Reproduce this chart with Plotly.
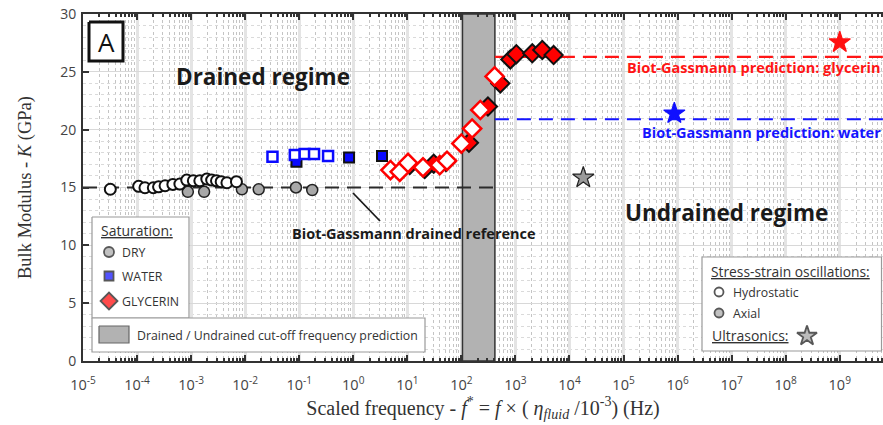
import plotly.graph_objects as go

# ---------------- data ----------------
dry_hydro_f = [3.2e-5, 1.07e-4, 1.4e-4, 2.0e-4, 2.5e-4, 3.3e-4, 4.6e-4, 6.2e-4, 8.3e-4,
               1.1e-3, 1.45e-3, 1.95e-3, 2.4e-3, 2.95e-3, 3.6e-3, 4.6e-3, 6.9e-3]
dry_hydro_K = [14.85, 15.10, 14.98, 14.98, 15.06, 15.15, 15.27, 15.30, 15.64,
               15.58, 15.58, 15.73, 15.64, 15.58, 15.50, 15.41, 15.50]
dry_axial_f = [8.7e-4, 1.74e-3, 8.7e-3, 0.0178, 0.087, 0.174]
dry_axial_K = [14.63, 14.63, 14.84, 14.84, 15.0, 14.78]

water_hydro_f = [0.032, 0.083, 0.126, 0.188, 0.342]
water_hydro_K = [17.66, 17.81, 17.89, 17.89, 17.72]
water_axial_f = [0.089, 0.836, 3.4]
water_axial_K = [17.23, 17.6, 17.72]

gly_hydro_f = [4.88, 7.24, 10.3, 19.5, 39.8, 54.2, 100, 158, 224, 412]
gly_hydro_K = [16.51, 16.36, 17.12, 16.74, 16.93, 17.31, 18.8, 20.1, 21.7, 24.6]
gly_axial_f = [11.1, 21.0, 30.8, 52.0, 138, 310, 526, 805, 1040, 2050, 3140, 5080]
gly_axial_K = [16.94, 16.6, 17.06, 17.2, 18.86, 22.0, 24.0, 26.07, 26.53, 26.6, 26.89, 26.45]

ultra_f = [1.8e4, 8.7e5, 1.0e9]
ultra_K = [15.85, 21.4, 27.55]
ultra_colors = ["#9a9a9a", "#1010ff", "#ff1010"]

bg_drained_f = [1e-5, 417]
bg_drained_K = [15.0, 15.0]
bg_water_f = [417, 10 ** 9.8]
bg_water_K = [20.9, 20.9]
bg_gly_f = [417, 10 ** 9.8]
bg_gly_K = [26.3, 26.3]

cutoff_band = [104.7, 417]

decades = list(range(-5, 10))
xtick_vals = [10.0 ** d for d in decades]
xtick_text = ["10<sup>%d</sup>" % d for d in decades]
ytick_vals = [0, 5, 10, 15, 20, 25, 30]

# ---------------- figure ----------------
fig = go.Figure()

DASH = "14px,8px"
fig.add_trace(go.Scatter(x=bg_drained_f, y=bg_drained_K, mode="lines",
                         line=dict(color="#2b2b2b", width=2, dash=DASH), hoverinfo="skip"))
fig.add_trace(go.Scatter(x=bg_water_f, y=bg_water_K, mode="lines",
                         line=dict(color="#1515ff", width=2.2, dash=DASH), hoverinfo="skip"))
fig.add_trace(go.Scatter(x=bg_gly_f, y=bg_gly_K, mode="lines",
                         line=dict(color="#ff1515", width=2.2, dash=DASH), hoverinfo="skip"))

# axial first (drawn below), hydrostatic on top
fig.add_trace(go.Scatter(x=dry_axial_f, y=dry_axial_K, mode="markers",
                         marker=dict(symbol="circle", size=11, color="#a8a8a8",
                                     line=dict(color="#222", width=1.5))))
fig.add_trace(go.Scatter(x=dry_hydro_f, y=dry_hydro_K, mode="markers",
                         marker=dict(symbol="circle", size=11, color="white",
                                     line=dict(color="#111", width=2))))
fig.add_trace(go.Scatter(x=water_axial_f, y=water_axial_K, mode="markers",
                         marker=dict(symbol="square", size=10, color="#0a0aff",
                                     line=dict(color="#111", width=2))))
fig.add_trace(go.Scatter(x=water_hydro_f, y=water_hydro_K, mode="markers",
                         marker=dict(symbol="square", size=10, color="white",
                                     line=dict(color="#0a0aff", width=2.5))))
fig.add_trace(go.Scatter(x=gly_axial_f, y=gly_axial_K, mode="markers",
                         marker=dict(symbol="diamond", size=14, color="#ff0000",
                                     line=dict(color="#111", width=2))))
fig.add_trace(go.Scatter(x=gly_hydro_f, y=gly_hydro_K, mode="markers",
                         marker=dict(symbol="diamond", size=14, color="white",
                                     line=dict(color="#ff0000", width=2.5))))
fig.add_trace(go.Scatter(x=ultra_f, y=ultra_K, mode="markers",
                         marker=dict(symbol="star", size=16, color=ultra_colors,
                                     line=dict(color=["#222", "#1010ff", "#ff1010"], width=1.2))))

# cut-off band
fig.add_shape(type="rect", xref="x", yref="y", x0=cutoff_band[0], x1=cutoff_band[1], y0=0, y1=30,
              fillcolor="#b2b2b2", line=dict(color="#333", width=1.5), layer="between")

# ---------- overlay (screen-pixel) axis for legends & labels ----------
def box(x0, x1, y0, y1, fill, edge, width):
    fig.add_trace(go.Scatter(x=[x0, x1, x1, x0, x0], y=[y0, y0, y1, y1, y0],
                             xaxis="x2", yaxis="y2", mode="lines", fill="toself",
                             fillcolor=fill, line=dict(color=edge, width=width),
                             hoverinfo="skip"))

box(92, 189, 217, 318, "white", "#9a9a9a", 1.2)
box(92, 425, 318, 352, "white", "#9a9a9a", 1.2)
box(702, 881.5, 257, 351, "white", "#9a9a9a", 1.2)
box(99, 129, 326, 343, "#b2b2b2", "#666", 1.2)
box(89, 123, 22, 61, "white", "#111", 3)

legend_glyph_x = [109, 109, 109, 719, 719, 807]
legend_glyph_y = [252, 276, 301, 292, 313, 336]
legend_glyph_sym = ["circle", "square", "diamond", "circle", "circle", "star"]
legend_glyph_fill = ["#a8a8a8", "#0a0aff", "#ff0000", "white", "#a8a8a8", "#a0a0a0"]
legend_glyph_size = [10, 9, 13, 9, 9, 15]

fig.add_trace(go.Scatter(x=legend_glyph_x, y=legend_glyph_y, xaxis="x2", yaxis="y2",
                         mode="markers",
                         marker=dict(symbol=legend_glyph_sym, size=legend_glyph_size,
                                     color=legend_glyph_fill,
                                     line=dict(color="#111", width=1.8)),
                         hoverinfo="skip"))

SANS = "Open Sans"
TXT = "#333333"

def ann(x, y, text, size, color=TXT, xanchor="left", bold=False, family=SANS):
    fig.add_annotation(x=x, y=y, xref="x2", yref="y2", text=("<b>%s</b>" % text) if bold else text,
                       showarrow=False, xanchor=xanchor, yanchor="middle",
                       font=dict(family=family, size=size, color=color))

ann(106, 42, "A", 26, color="#111", xanchor="center")
ann(263, 76, "Drained regime", 22.5, color="#1a1a1a", xanchor="center", bold=True)
ann(726, 212, "Undrained regime", 22.5, color="#1a1a1a", xanchor="center", bold=True)
ann(625, 67, "Biot-Gassmann prediction: glycerin", 14.5, color="#ff1515", bold=True)
ann(640, 132, "Biot-Gassmann prediction: water", 14.5, color="#1515ff", bold=True)
ann(290, 233, "Biot-Gassmann drained reference", 14.5, color="#1a1a1a", bold=True)

ann(99, 230, "<u>Saturation:</u>", 14)
ann(120, 252, "DRY", 12.3)
ann(120, 276, "WATER", 12.3)
ann(120, 301, "GLYCERIN", 12.3)
ann(135, 335, "Drained / Undrained cut-off frequency prediction", 12.3)
ann(709, 271, "<u>Stress-strain oscillations:</u>", 13.8)
ann(731, 292, "Hydrostatic", 12.3)
ann(731, 313, "Axial", 12.3)
ann(710, 335, "<u>Ultrasonics:</u>", 14)

# pointer line to drained reference text
fig.add_shape(type="line", xref="x2", yref="y2", x0=353, y0=193, x1=380, y1=221,
              line=dict(color="#1a1a1a", width=1.8))

fig.update_layout(
    width=883, height=425,
    margin=dict(l=83, r=0, t=14, b=64, autoexpand=False),
    paper_bgcolor="white", plot_bgcolor="white",
    showlegend=False,
    xaxis=dict(type="log", range=[-5, 9.8], tickvals=xtick_vals, ticktext=xtick_text,
               automargin=False,
               showline=True, linecolor="#333", linewidth=2, mirror="allticks",
               ticks="inside", ticklen=6, tickwidth=1.5, tickcolor="#333",
               showgrid=True, gridcolor="#e4e4e4", gridwidth=3, zeroline=False,
               tickfont=dict(family=SANS, size=14.5, color="#444"), ticklabelstandoff=10,
               minor=dict(dtick="D1", ticks="inside", ticklen=3, tickcolor="#333",
                          showgrid=True, gridcolor="#c4c4c4", griddash="dot", gridwidth=1),
               title=dict(text="Scaled frequency - <i>f</i><sup>*</sup> = <i>f</i> × ( <i>η</i><sub><i>fluid</i></sub> /10<sup>-3</sup>) (Hz)",
                          font=dict(family="Liberation Serif", size=20, color="#333"), standoff=2)),
    yaxis=dict(range=[0, 30], tickvals=ytick_vals, showline=True, linecolor="#333", linewidth=2,
               automargin=False,
               ticks="inside", ticklen=6, tickwidth=1.5, tickcolor="#333",
               showgrid=True, gridcolor="#d8d8d8", gridwidth=1.2, zeroline=False,
               tickfont=dict(family=SANS, size=14, color="#444"), ticklabelstandoff=2,
               minor=dict(dtick=1, showgrid=True, gridcolor="#dadada", griddash="dot", gridwidth=1),
               title=dict(text="Bulk Modulus - <i>K</i> (GPa)",
                          font=dict(family="Liberation Serif", size=18.5, color="#333"), standoff=24)),
    xaxis2=dict(overlaying="x", anchor="y2", range=[83, 883], visible=False, fixedrange=True),
    yaxis2=dict(overlaying="y", anchor="x2", range=[361, 14], visible=False, fixedrange=True),
)

fig.write_html("out.html", config={"displayModeBar": False},
               post_script="document.body.style.margin='0px';document.body.style.overflow='hidden';")
